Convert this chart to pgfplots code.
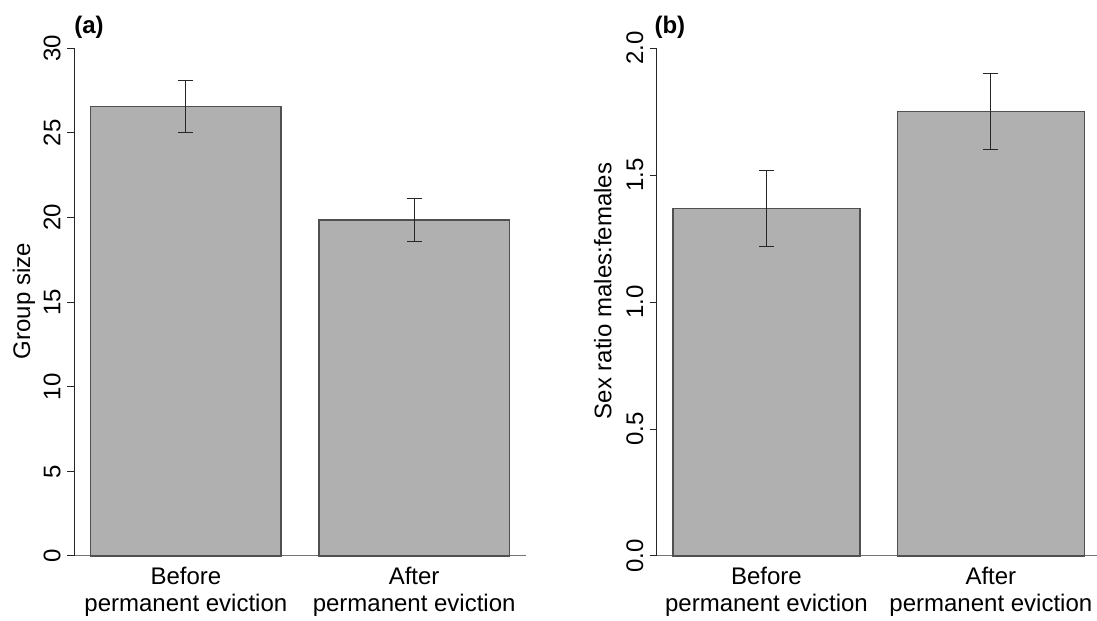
\documentclass[border=0pt]{standalone}
\usepackage{pgfplots}
\pgfplotsset{compat=1.18}
\usepackage{fontspec}
\setmainfont{Liberation Sans}
\definecolor{barfill}{HTML}{B0B0B0}
\definecolor{baredge}{HTML}{505050}
\newcommand{\lblfont}{\fontsize{18}{20}\selectfont}

\pgfplotsset{
  rbar/.style={
    scale only axis,
    height=380.8pt,
    ymin=0,
    xmin=0.112, xmax=2.488,
    xtick={0.7,1.9},
    xticklabels={{Before\\permanent eviction},{After\\permanent eviction}},
    axis x line*=bottom, axis y line*=left,
    x axis line style={draw=black!55, line width=0.75pt, -},
    y axis line style={draw=black!85, line width=0.75pt, -},
    tick align=outside,
    major tick length=5.25pt,
    x tick style={draw=none},
    y tick style={draw=black!85, line width=0.75pt},
    minor tick num=0,
    /pgf/number format/assume math mode=true,
    tick label style={font=\lblfont, text=black},
    xticklabel style={align=center, anchor=north, inner sep=0pt, yshift=-3pt},
    yticklabel style={xshift=-4.5pt, rotate=90, anchor=south, inner sep=0pt},
    ylabel style={anchor=base, inner sep=0pt, font=\lblfont},
    clip=false,
    enlargelimits=false,
  },
  rerr/.style={
    ybar, bar width=1, fill=barfill, draw=baredge, line width=0.9pt,
    error bars/.cd, y dir=both, y explicit,
    error bar style={line width=0.75pt, draw=black!85},
    error mark options={rotate=90, line width=0.75pt, mark size=5.6pt, draw=black!85},
  }
}

\begin{document}
\begin{tikzpicture}
\begin{axis}[rbar, at={(55.5pt,48.75pt)}, anchor=south west, width=339pt,
  ymax=30, ytick={0,5,10,15,20,25,30},
  ylabel={Group size},
  ylabel style={at={(axis description cs:-0.097,0.502)}}]
\addplot[rerr] table[x=x, y=y, y error plus=ep, y error minus=em] {
x y ep em
0.7 26.55 1.57 1.55
1.9 19.85 1.27 1.27
};
\node[anchor=base west, inner sep=0pt, font=\bfseries\lblfont] at (rel axis cs:0,1.030) {(a)};
\end{axis}
\begin{axis}[rbar, at={(492.4pt,48.75pt)}, anchor=south west, width=333.2pt,
  ymax=2, ytick={0,0.5,1,1.5,2},
  /pgf/number format/fixed, /pgf/number format/fixed zerofill, /pgf/number format/precision=1,
  ylabel={Sex ratio males:females},
  ylabel style={at={(axis description cs:-0.1015,0.522)}}]
\addplot[rerr] table[x=x, y=y, y error plus=ep, y error minus=em] {
x y ep em
0.7 1.37 0.15 0.15
1.9 1.752 0.148 0.149
};
\node[anchor=base west, inner sep=0pt, font=\bfseries\lblfont] at (rel axis cs:-0.005,1.030) {(b)};
\end{axis}
\pgfresetboundingbox
\path[use as bounding box] (0,0) rectangle (822.75pt,465.75pt);
\end{tikzpicture}
\end{document}
